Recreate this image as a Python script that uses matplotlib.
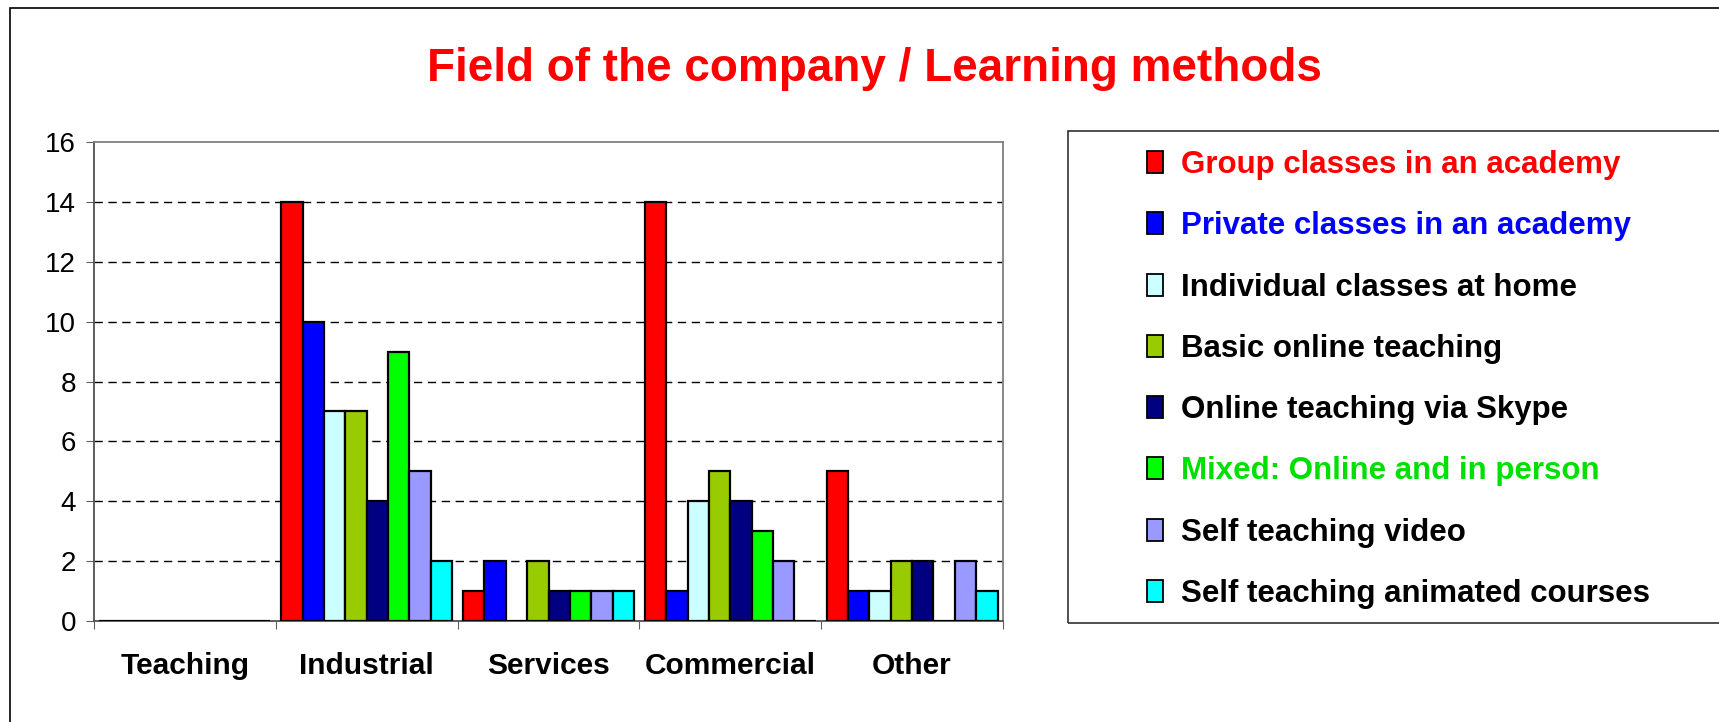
#!/usr/bin/env python3
"""
Field of the company / Learning methods bar chart
"""
import matplotlib
matplotlib.use('Agg')
import matplotlib.pyplot as plt
from matplotlib.patches import Rectangle, Patch
import numpy as np

categories = ['Teaching', 'Industrial', 'Services', 'Commercial', 'Other']
methods = ['Group classes in an academy',
           'Private classes in an academy',
           'Individual classes at home',
           'Basic online teaching',
           'Online teaching via Skype',
           'Mixed: Online and in person',
           'Self teaching video',
           'Self teaching animated courses']
# one list per method, values per category
group_academy = [0, 14, 1, 14, 5]
private_academy = [0, 10, 2, 1, 1]
individual_home = [0, 7, 0, 4, 1]
basic_online = [0, 7, 2, 5, 2]
online_skype = [0, 4, 1, 4, 2]
mixed = [0, 9, 1, 3, 0]
self_video = [0, 5, 1, 2, 2]
self_animated = [0, 2, 1, 0, 1]
series = [group_academy, private_academy, individual_home, basic_online,
          online_skype, mixed, self_video, self_animated]

colors = ['#FF0000', '#0000FF', '#CCFFFF', '#99CC00',
          '#000080', '#00FF00', '#9999FF', '#00FFFF']
label_colors = ['#FF0000', '#0000FF', 'black', 'black',
                'black', '#00E000', 'black', 'black']
yticks = [0, 2, 4, 6, 8, 10, 12, 14, 16]

plt.rcParams['font.family'] = ['Liberation Sans', 'DejaVu Sans']

W, H = 1719, 722
fig = plt.figure(figsize=(W / 100, H / 100), dpi=100)
ax = fig.add_axes([94 / W, 1 - 621 / H, (1003 - 94) / W, (621 - 142) / H])

n = len(series)
width = 0.94 / n
x = np.arange(len(categories)) + 0.5
for j, (vals, col) in enumerate(zip(series, colors)):
    ax.bar(x + (j - (n - 1) / 2) * width, vals, width, color=col,
           edgecolor='black', linewidth=1.6, zorder=3)

ax.set_xlim(0, len(categories))
ax.set_ylim(0, 16)
ax.set_yticks(yticks)
ax.set_yticklabels([str(v) for v in yticks], fontsize=20)
for v in yticks[1:-1]:
    ax.axhline(v, color='black', linewidth=1, linestyle=(0, (6, 4)),
               zorder=1)

ax.set_xticks(np.arange(len(categories) + 1))
ax.set_xticklabels([])
ax.set_xticks(x, minor=True)
ax.set_xticklabels(categories, minor=True, fontsize=21.5, fontweight='bold')
ax.tick_params(axis='x', which='minor', length=0, pad=22)
ax.tick_params(axis='x', which='major', length=6, color='#606060')
ax.tick_params(axis='y', length=6, color='#606060', pad=7)
for s in ax.spines.values():
    s.set_color('#808080')
    s.set_linewidth(1.3)
ax.spines['bottom'].set_color('#505050')
ax.spines['left'].set_color('#505050')

fig.text(874 / W, 1 - 69 / H, 'Field of the company / Learning methods',
         ha='center', va='center', fontsize=33, fontweight='bold',
         color='#FF0000')

# outer frame and legend frame
fig.patches.append(Rectangle((10 / W, -0.05), 1.1, 1 - 8 / H + 0.05,
                             transform=fig.transFigure, fill=False,
                             edgecolor='black', linewidth=1.2))
fig.patches.append(Rectangle((1068 / W, 1 - 623 / H), 1.0, (623 - 131) / H,
                             transform=fig.transFigure, fill=False,
                             edgecolor='#303030', linewidth=1.2))

handles = [Patch(facecolor=c, edgecolor='black', linewidth=1.3) for c in colors]
leg = fig.legend(handles, methods, loc='upper left',
                 bbox_to_anchor=(1147 / W, 1 - 150 / H), frameon=False,
                 prop={'size': 22.5, 'weight': 'bold'}, borderpad=0,
                 borderaxespad=0, handlelength=0.5, handleheight=0.7,
                 handletextpad=0.6, labelspacing=1.0)
for t, c in zip(leg.get_texts(), label_colors):
    t.set_color(c)

fig.savefig('out.png', dpi=100)
